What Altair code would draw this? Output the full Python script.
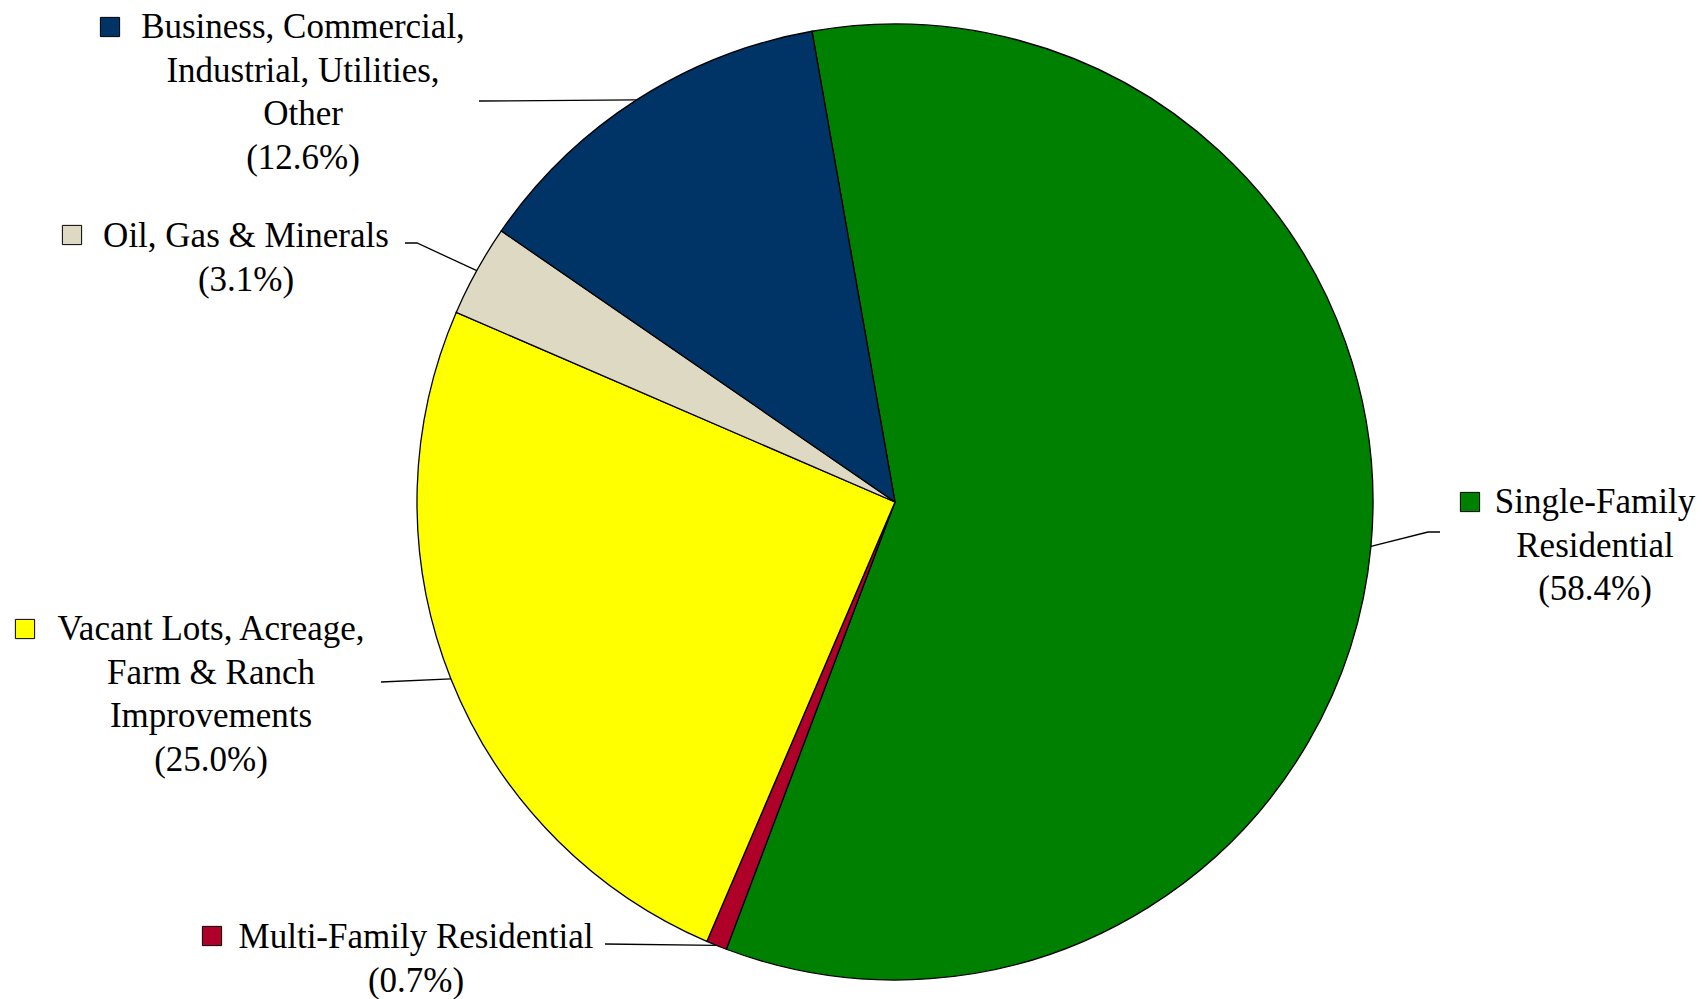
import math
import altair as alt
import pandas as pd

# ---------------- data ----------------
categories = [
    "Single-Family Residential",
    "Multi-Family Residential",
    "Vacant Lots, Acreage, Farm & Ranch Improvements",
    "Oil, Gas & Minerals",
    "Business, Commercial, Industrial, Utilities, Other",
]
shares = [58.4, 0.7, 25.0, 3.1, 12.6]
wrapped_names = [
    "Single-Family\nResidential",
    "Multi-Family Residential",
    "Vacant Lots, Acreage,\nFarm & Ranch\nImprovements",
    "Oil, Gas & Minerals",
    "Business, Commercial,\nIndustrial, Utilities,\nOther",
]
colors = ["#008000", "#AE0029", "#FFFF00", "#DDD9C3", "#003366"]

# ---------------- layout ----------------
W, H = 1692, 991
CX, CY, R = 887, 494, 478
START_DEG = -10.0
FONT = "Liberation Serif"
FS = 35
LH = 43.5
# text block centre x, first baseline (view coords)
text_anchor = [(1587, 505), (408, 940), (203, 632), (238, 239), (295, 30)]
line_heights = [LH, LH, LH, LH, 42.5]
# legend-key square centres
key_pos = [(1462, 494), (204, 928), (17, 621), (64, 227), (102, 19)]
# leader line points before reaching the pie edge
leader_pts = [
    [(1432, 524), (1420, 524)],
    [(597, 936)],
    [(373, 674)],
    [(397, 235), (409, 235)],
    [(471, 93)],
]

# ---------------- derived tables ----------------
total = sum(shares)
start_rad = 2 * math.pi + math.radians(START_DEG)

pie_df = pd.DataFrame({"category": categories, "share": shares, "idx": range(len(categories))})

labels = []
keys = []
lines = []
cum = 0.0
for i, (cat, s) in enumerate(zip(categories, shares)):
    mid = start_rad + 2 * math.pi * (cum + s / 2) / total
    cum += s
    ex = CX + R * math.sin(mid)
    ey = CY - R * math.cos(mid)
    tx, ty = text_anchor[i]
    labels.append({"category": cat, "x": tx, "y": ty, "lh": line_heights[i],
                   "label": f"{wrapped_names[i]}\n({s:.1f}%)"})
    kx, ky = key_pos[i]
    keys.append({"category": cat, "x": kx, "y": ky})
    pts = leader_pts[i] + [(ex, ey)]
    for j, (px, py) in enumerate(pts):
        lines.append({"category": cat, "seq": j, "x": px, "y": py})

label_df = pd.DataFrame(labels)
key_df = pd.DataFrame(keys)
line_df = pd.DataFrame(lines)

color_scale = alt.Scale(domain=categories, range=colors)
xpix = lambda f: alt.X(f, scale=None, axis=None)
ypix = lambda f: alt.Y(f, scale=None, axis=None)

arc = alt.Chart(pie_df).mark_arc(outerRadius=R, stroke="black", strokeWidth=1.3).encode(
    theta=alt.Theta("share:Q", stack=True,
                    scale=alt.Scale(range=[start_rad, start_rad + 2 * math.pi])),
    color=alt.Color("category:N", scale=color_scale, legend=None),
    order=alt.Order("idx:Q"),
    x=alt.value(CX),
    y=alt.value(CY),
)

leaders = alt.Chart(line_df).mark_line(color="black", strokeWidth=1.3).encode(
    x=xpix("x:Q"), y=ypix("y:Q"), detail="category:N", order="seq:Q"
)

squares = alt.Chart(key_df).mark_square(size=370, stroke="black", strokeWidth=1,
                                        opacity=1, filled=True).encode(
    x=xpix("x:Q"), y=ypix("y:Q"),
    color=alt.Color("category:N", scale=color_scale, legend=None),
)

texts = alt.Chart(label_df).mark_text(
    align="center", baseline="alphabetic", font=FONT, fontSize=FS,
    lineHeight=LH, lineBreak="\n", color="black"
).encode(x=xpix("x:Q"), y=ypix("y:Q"), text="label:N")

chart = alt.layer(arc, leaders, squares, texts).properties(
    width=W, height=H, padding=0
).configure_view(stroke=None)

chart.save("out.html", embed_options={"renderer": "svg", "actions": False})
